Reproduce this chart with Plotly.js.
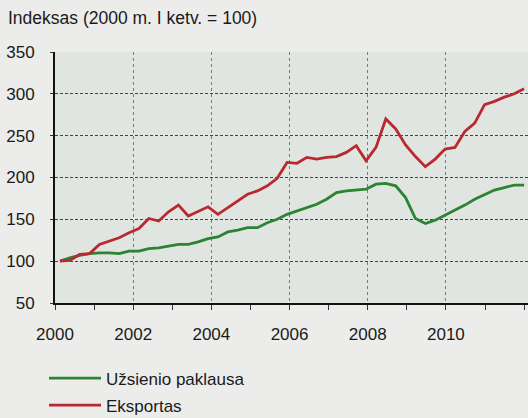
<!DOCTYPE html>
<html>
<head>
<meta charset="utf-8">
<script src="https://cdn.plot.ly/plotly-3.0.1.min.js"></script>
<style>
html,body{margin:0;padding:0;background:#ececea;}
#chart{width:528px;height:418px;}
</style>
</head>
<body>
<div id="chart"></div>
<script>
// Quarters 2000 Q1 – 2011 Q4
const years = [2000,2001,2002,2003,2004,2005,2006,2007,2008,2009,2010,2011];
const quartersPerYear = ["I","II","III","IV"];
const quarterLabels = [];
years.forEach(y => quartersPerYear.forEach(q => quarterLabels.push(y + " m. " + q + " ketv.")));

const uzsienioPaklausa = [100,104,107,109,110,110,109,112,112,115,116,118,
                          120,120,123,127,129,135,137,140,140,146,150,156,
                          160,164,168,174,182,184,185,186,192,193,190,176,
                          151,145,149,155,160,167,174,180,185,188,191,191];
const eksportas = [100,101,108,109,120,124,128,134,139,151,148,159,
                   167,154,160,165,156,164,172,180,184,190,199,218,
                   217,224,222,224,225,230,238,220,236,270,258,239,
                   225,213,222,234,236,255,265,287,291,296,300,306];

const seriesNames = ["Užsienio paklausa","Eksportas"];
const yTicks = [50,100,150,200,250,300,350];
const xTickYears = [2000,2002,2004,2006,2008,2010];
const titleText = "Indeksas (2000 m. I ketv. = 100)";

// Position of each quarter on the year axis (category spacing as in the original chart)
const xPos = quarterLabels.map((_, i) => 2000 + (i + 0.5) * 12 / 47.5);

const font = "Liberation Sans, Arial, sans-serif";
const traces = [
  {x: xPos, y: uzsienioPaklausa, text: quarterLabels, name: seriesNames[0], type: "scatter", mode: "lines",
   legendgroup: "g1", line: {color: "#2a8431", width: 2.8}},
  {x: xPos, y: eksportas, text: quarterLabels, name: seriesNames[1], type: "scatter", mode: "lines",
   legendgroup: "g2", line: {color: "#b82a2f", width: 2.8}}
];

const layout = {
  width: 528, height: 418,
  paper_bgcolor: "#ececea",
  plot_bgcolor: "#e1e5e1",
  margin: {l: 55, r: 0, t: 52, b: 115, autoexpand: false},
  font: {family: font, size: 17, color: "#1a1a1a"},
  title: {text: titleText, font: {family: font, size: 17.5, color: "#1a1a1a"},
          x: 8/528, xanchor: "left", xref: "container", y: 1 - 18/418, yanchor: "middle", yref: "container"},
  xaxis: {
    range: [2000, 2012.1],
    tickvals: xTickYears, ticktext: xTickYears.map(String),
    ticks: "outside", ticklen: 5, tickcolor: "#333", tickwidth: 1,
    minor: {dtick: 1, tick0: 2000, ticks: "outside", ticklen: 5, tickcolor: "#333", showgrid: false},
    showline: true, linecolor: "#111", linewidth: 1.5,
    showgrid: true, gridcolor: "#7a7a7a", griddash: "dot", gridwidth: 1,
    zeroline: false, ticklabelstandoff: 10, fixedrange: true, automargin: false
  },
  yaxis: {
    range: [50, 350],
    tickvals: yTicks,
    ticks: "outside", ticklen: 3, tickcolor: "#333",
    showline: true, linecolor: "#111", linewidth: 2,
    showgrid: true, gridcolor: "#444", griddash: "3px,2px", gridwidth: 1,
    zeroline: false, ticklabelstandoff: 12, fixedrange: true, automargin: false
  },
  showlegend: true,
  legend: {
    x: 44/528, xref: "container", xanchor: "left",
    y: 1 - 360.5/418, yref: "container", yanchor: "top",
    bgcolor: "rgba(0,0,0,0)", borderwidth: 0,
    font: {family: font, size: 17, color: "#1a1a1a"},
    itemwidth: 52, traceorder: "grouped", tracegroupgap: 2
  },
  hovermode: false
};

Plotly.newPlot("chart", traces, layout, {displayModeBar: false, staticPlot: true});
</script>
</body>
</html>
